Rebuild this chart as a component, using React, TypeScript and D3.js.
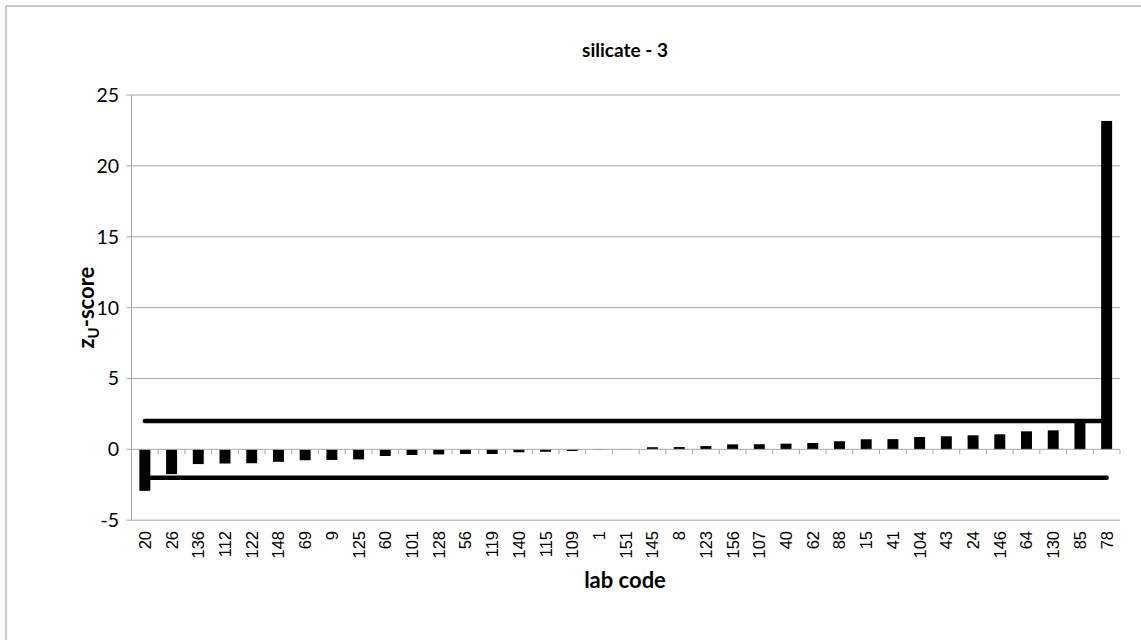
import React from "react";
import * as d3 from "d3";

const labCodes = ["20","26","136","112","122","148","69","9","125","60","101","128","56","119","140","115","109","1","151","145","8","123","156","107","40","62","88","15","41","104","43","24","146","64","130","85","78"];
const zScores = [-2.93,-1.75,-1.04,-1.0,-0.98,-0.88,-0.77,-0.75,-0.71,-0.47,-0.4,-0.36,-0.33,-0.33,-0.21,-0.17,-0.12,-0.03,-0.02,0.15,0.16,0.23,0.35,0.36,0.4,0.45,0.57,0.71,0.72,0.87,0.92,0.99,1.06,1.27,1.34,2.05,23.17];
const upperLimit = 2;
const lowerLimit = -2;
const yTicks = [-5, 0, 5, 10, 15, 20, 25];
const title = "silicate - 3";
const xTitle = "lab code";

export default function App() {
  const W = 1141, H = 640;
  const left = 131.5, right = 1120, top = 95, bottom = 520.2;
  const x = d3.scaleBand<string>().domain(labCodes).range([left, right]).paddingInner(0).paddingOuter(0);
  const y = d3.scaleLinear().domain([-5, 25]).range([bottom, top]);
  const bw = x.bandwidth() * 0.41;
  const y0 = y(0);
  const cx = (c: string) => (x(c) as number) + x.bandwidth() / 2;
  const upperPath = d3.line<string>().x(cx).y(() => y(upperLimit))(labCodes) as string;
  const lowerPath = d3.line<string>().x(cx).y(() => y(lowerLimit))(labCodes) as string;
  const grid = "#A6A6A6";
  const calibri = "Lato, 'Open Sans', sans-serif";
  return (
    <svg width={W} height={H} style={{ position: "absolute", left: 0, top: 0 }}>
      <rect x={0} y={0} width={W} height={H} fill="#fff" />
      <rect x={6} y={6} width={W + 20} height={H + 20} fill="none" stroke="#A6A6A6" strokeWidth={1.2} />
      <text x={625} y={57} textAnchor="middle" fontFamily={calibri} fontWeight="bold" fontSize={19} fill="#000">{title}</text>
      {yTicks.filter(t => t !== 0).map(t => (
        <line key={"g" + t} x1={left} x2={right} y1={y(t)} y2={y(t)} stroke={grid} strokeWidth={1} />
      ))}
      {yTicks.map(t => (
        <line key={"yt" + t} x1={left - 5} x2={left} y1={y(t)} y2={y(t)} stroke={grid} strokeWidth={1} />
      ))}
      <line x1={left} x2={left} y1={top} y2={bottom} stroke={grid} strokeWidth={1} />
      {yTicks.map(t => (
        <text key={"yl" + t} x={119} y={y(t) + 7} textAnchor="end" fontFamily={calibri} fontSize={19.5} fill="#000">{t}</text>
      ))}
      {labCodes.map((c, i) => {
        const v = zScores[i];
        return (
          <rect key={"b" + c} x={cx(c) - bw / 2} y={Math.min(y(v), y0)} width={bw} height={Math.abs(y(v) - y0)} fill="#000" />
        );
      })}
      <line x1={left} x2={right} y1={y0} y2={y0} stroke={grid} strokeWidth={1} />
      {labCodes.map(c => (
        <line key={"xt" + c} x1={(x(c) as number) + x.bandwidth()} x2={(x(c) as number) + x.bandwidth()} y1={y0} y2={y0 + 5} stroke={grid} strokeWidth={1} />
      ))}
      <path d={upperPath} fill="none" stroke="#000" strokeWidth={4.5} strokeLinecap="round" />
      <path d={lowerPath} fill="none" stroke="#000" strokeWidth={4.5} strokeLinecap="round" />
      {labCodes.map(c => (
        <text key={"xl" + c} transform={`translate(${cx(c) + 6},${531}) rotate(-90)`} textAnchor="end" fontFamily="'Liberation Sans', Arial, sans-serif" fontSize={16.5} fill="#000">{c}</text>
      ))}
      <text x={625} y={588} textAnchor="middle" fontFamily={calibri} fontWeight="bold" fontSize={22} fill="#000">{xTitle}</text>
      <text transform={`translate(94,${(top + bottom) / 2}) rotate(-90)`} textAnchor="middle" fontFamily={calibri} fontWeight="bold" fontSize={22} fill="#000">
        z<tspan fontSize={15} dy={5}>U</tspan><tspan dy={-5}>-score</tspan>
      </text>
    </svg>
  );
}
